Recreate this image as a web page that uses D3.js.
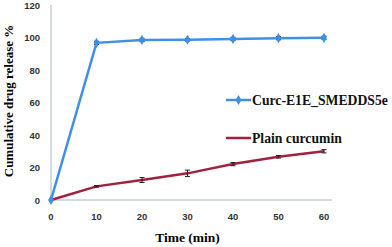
<!DOCTYPE html>
<html lang="en">
<head>
  <meta charset="UTF-8">
  <title>Release</title>
  <script src="https://cdn.jsdelivr.net/npm/d3@7.6.1/dist/d3.min.js"></script>
  <style>
    body { margin: 0; background: #fff; }
    svg { display: block; }
  </style>
</head>
<body>
  <div id="svg"></div>
  <script>
    const width = 392
    const height = 247

    const times = [0, 10, 20, 30, 40, 50, 60]
    const smedds = [0, 96.7, 98.5, 98.6, 99.1, 99.6, 99.8]
    const smeddsErr = [0, 1, 1, 0.8, 1, 1, 1]
    const plain = [0, 8.4, 12.3, 16.4, 22.1, 26.6, 30]
    const plainErr = [0, 0.5, 1.5, 2, 1, 0.8, 1]
    const xTicks = [0, 10, 20, 30, 40, 50, 60]
    const yTicks = [0, 20, 40, 60, 80, 100, 120]
    const seriesNames = ['Curc-E1E_SMEDDS5e', 'Plain curcumin']
    const colors = ['#3f8fe6', '#a3203f']

    const x = d3.scaleLinear().domain([0, 60]).range([51, 324])
    const y = d3.scaleLinear().domain([0, 120]).range([200, 5])

    const svg = d3.select('#svg').append('svg')
      .attr('width', width)
      .attr('height', height)

    // axes
    svg.append('line')
      .attr('x1', x(0)).attr('x2', x(0))
      .attr('y1', y(120)).attr('y2', y(0))
      .attr('stroke', '#a9b6c2').attr('stroke-width', 1)
    svg.append('line')
      .attr('x1', x(0)).attr('x2', 332)
      .attr('y1', y(0)).attr('y2', y(0))
      .attr('stroke', '#a9b6c2').attr('stroke-width', 1)

    svg.selectAll('.ylab').data(yTicks).enter().append('text')
      .attr('x', 40).attr('y', d => y(d) + 3.5)
      .attr('text-anchor', 'end')
      .attr('font-family', 'Liberation Sans, Arial, sans-serif')
      .attr('font-weight', 'bold').attr('font-size', 9.5)
      .attr('fill', '#333')
      .text(d => d)

    svg.selectAll('.xlab').data(xTicks).enter().append('text')
      .attr('x', d => x(d)).attr('y', 220)
      .attr('text-anchor', 'middle')
      .attr('font-family', 'Liberation Sans, Arial, sans-serif')
      .attr('font-weight', 'bold').attr('font-size', 9.5)
      .attr('fill', '#333')
      .text(d => d)

    svg.append('text')
      .attr('x', x(30)).attr('y', 242)
      .attr('text-anchor', 'middle')
      .attr('font-family', 'Liberation Serif, Times New Roman, serif')
      .attr('font-weight', 'bold').attr('font-size', 13.5)
      .text('Time (min)')

    svg.append('text')
      .attr('transform', 'translate(13,101) rotate(-90)')
      .attr('text-anchor', 'middle')
      .attr('font-family', 'Liberation Serif, Times New Roman, serif')
      .attr('font-weight', 'bold').attr('font-size', 13)
      .text('Cumulative drug release %')

    const line = d3.line().x((d, i) => x(times[i])).y(d => y(d))

    function drawSeries(vals, errs, color, marker) {
      const g = svg.append('g')
      g.append('path').datum(vals)
        .attr('d', line)
        .attr('fill', 'none')
        .attr('stroke', color)
        .attr('stroke-width', 2.5)
      // error bars
      g.selectAll('.err').data(vals).enter().append('path')
        .attr('d', (d, i) => {
          const cx = x(times[i]), e = errs[i]
          if (!e) return ''
          const y1 = y(d + e), y2 = y(d - e)
          return `M${cx},${y1}V${y2}M${cx - 2.5},${y1}H${cx + 2.5}M${cx - 2.5},${y2}H${cx + 2.5}`
        })
        .attr('stroke', '#222').attr('stroke-width', 1).attr('fill', 'none')
      if (marker) {
        g.selectAll('.pt').data(vals).enter().append('path')
          .attr('d', d3.symbol().type(d3.symbolDiamond).size(30))
          .attr('transform', (d, i) => `translate(${x(times[i])},${y(d)})`)
          .attr('fill', color)
      }
    }

    drawSeries(plain, plainErr, colors[1], false)
    drawSeries(smedds, smeddsErr, colors[0], true)

    // legend
    const legY = [100, 138]
    seriesNames.forEach((name, i) => {
      svg.append('line')
        .attr('x1', 226).attr('x2', 251)
        .attr('y1', legY[i]).attr('y2', legY[i])
        .attr('stroke', colors[i]).attr('stroke-width', 2.5)
      if (i === 0) {
        svg.append('path')
          .attr('d', d3.symbol().type(d3.symbolDiamond).size(30))
          .attr('transform', `translate(238.5,${legY[i]})`)
          .attr('fill', colors[i])
      }
      svg.append('text')
        .attr('x', 252).attr('y', legY[i] + 4.5)
        .attr('font-family', 'Liberation Serif, Times New Roman, serif')
        .attr('font-weight', 'bold').attr('font-size', 13.7)
        .attr('fill', '#111')
        .text(name)
    })
  </script>
</body>
</html>
